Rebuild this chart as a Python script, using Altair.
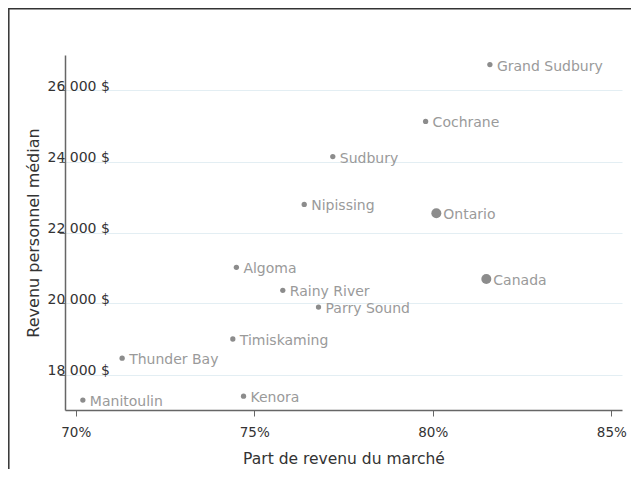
import altair as alt
import pandas as pd

regions = ["Grand Sudbury", "Cochrane", "Sudbury", "Nipissing", "Ontario", "Algoma",
           "Rainy River", "Canada", "Parry Sound", "Timiskaming", "Thunder Bay",
           "Kenora", "Manitoulin"]
market_share = [81.6, 79.8, 77.2, 76.4, 80.1, 74.5, 75.8, 81.5, 76.8, 74.4, 71.3, 74.7, 70.2]
median_income = [26730, 25130, 24140, 22790, 22540, 21020, 20370, 20690, 19900, 19000,
                 18460, 17390, 17280]
big = ["Ontario", "Canada"]

df = pd.DataFrame({"region": regions, "share": market_share, "income": median_income})
df["kind"] = ["big" if r in big else "small" for r in regions]

FONT = "DejaVu Sans"

x = alt.X("share:Q",
          scale=alt.Scale(domain=[69.7, 85.3], nice=False, zero=False),
          axis=alt.Axis(title="Part de revenu du marché", values=[70, 75, 80, 85],
                        labelExpr="datum.value + '%'", grid=False,
                        domainColor="#666666", domainWidth=1.5, tickColor="#666666",
                        tickSize=6, labelFontSize=13.5, labelColor="#333333",
                        labelPadding=9, titlePadding=13, titleFontSize=15.5,
                        titleColor="#333333", titleFontWeight="normal"))
y = alt.Y("income:Q",
          scale=alt.Scale(domain=[17000, 27000], nice=False, zero=False),
          axis=alt.Axis(title="Revenu personnel médian",
                        values=[18000, 20000, 22000, 24000, 26000],
                        labelExpr="replace(format(datum.value, ',.0f'), ',', ' ') + ' $'",
                        grid=True, gridColor="#e3eef3", gridWidth=1,
                        domainColor="#666666", domainWidth=1.5, tickColor="#666666",
                        tickSize=6, labelAlign="left", labelBaseline="alphabetic",
                        labelPadding=12, labelFontSize=14, labelColor="#333333",
                        titleX=-32, titleY=177.5, titleAngle=270, titleAlign="center",
                        titleBaseline="middle", titleFontSize=16, titleColor="#333333",
                        titleFontWeight="normal"))

points = alt.Chart(df).mark_circle(color="#8c8c8c", opacity=1).encode(
    x=x, y=y,
    size=alt.Size("kind:N", scale=alt.Scale(domain=["small", "big"], range=[28, 100]),
                  legend=None),
)
labels = alt.Chart(df).mark_text(align="left", baseline="middle", dx=7, dy=2,
                                 fontSize=14, color="#9a9a9a", font=FONT).encode(
    x="share:Q", y="income:Q", text="region:N")

frame = alt.Chart(pd.DataFrame({"a": [0]})).mark_rect(
    fill=None, stroke="#333333", strokeWidth=1.5, clip=False).encode(
    x=alt.value(-56.2), x2=alt.value(700), y=alt.value(-46.2), y2=alt.value(600))

chart = alt.layer(frame, points, labels).properties(
    width=557, height=355,
    autosize=alt.AutoSizeParams(type="none"),
    padding={"left": 57, "top": 47, "right": 9, "bottom": 59},
).configure(font=FONT).configure_view(strokeWidth=0, stroke="transparent")

chart.save("out.html", embed_options={"renderer": "svg", "actions": False})
